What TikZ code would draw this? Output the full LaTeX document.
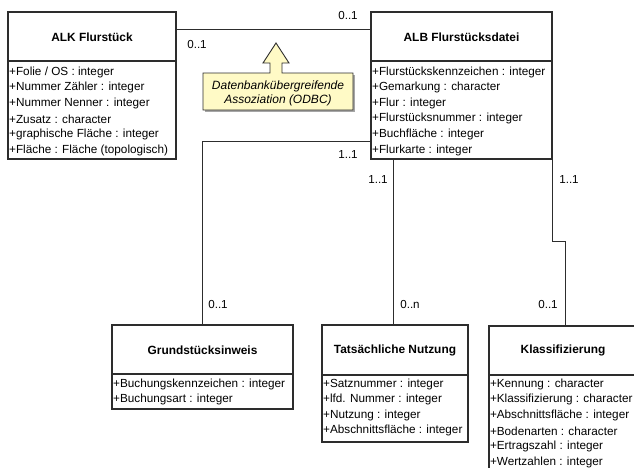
\documentclass[tikz,border=0pt]{standalone}
\usepackage{fontspec}
\setmainfont{Liberation Sans}
\usetikzlibrary{calc}
\definecolor{linegray}{RGB}{45,45,45}
\definecolor{noteyellow}{RGB}{255,250,198}

\begin{document}
\begin{tikzpicture}[x=1pt,y=-1pt,
  classbox/.style={draw=linegray, line width=1.1pt, fill=white, anchor=north west,
    inner sep=0pt, outer sep=0pt},
  classline/.style={draw=linegray, line width=1.1pt},
  title/.style={font=\fontsize{11.9}{13}\selectfont\bfseries, text=black, inner sep=0pt},
  attr/.style={anchor=west, inner sep=0pt, font=\fontsize{11.75}{13}\selectfont},
  mult/.style={font=\fontsize{11.6}{13}\selectfont, inner sep=0pt},
  assoc/.style={draw=linegray, line width=0.9pt},
  notebox/.style={draw=linegray, line width=0.9pt, fill=noteyellow, line join=miter},
  notetext/.style={font=\fontsize{12}{14}\selectfont\itshape, align=center, inner sep=0pt},
]
\useasboundingbox (0,0) rectangle (634,467);
\clip (0,0) rectangle (634,467);

% ---------- classes ----------
\node[classbox, minimum width=168pt, minimum height=147pt] (alk) at (8,12) {};
\node[classbox, minimum width=181pt, minimum height=147pt] (alb) at (371,12) {};
\node[classbox, minimum width=181pt, minimum height=84pt] (grund) at (112,325) {};
\node[classbox, minimum width=146pt, minimum height=117pt] (nutz) at (322,325) {};
\node[classbox, minimum width=148pt, minimum height=170pt] (klass) at (489,326) {};

% header separators
\draw[classline] ($(alk.north west)+(0,49)$) -- ($(alk.north east)+(0,49)$);
\draw[classline] ($(alb.north west)+(0,49)$) -- ($(alb.north east)+(0,49)$);
\draw[classline] ($(grund.north west)+(0,49)$) -- ($(grund.north east)+(0,49)$);
\draw[classline] ($(nutz.north west)+(0,50)$) -- ($(nutz.north east)+(0,50)$);
\draw[classline] ($(klass.north west)+(0,49)$) -- ($(klass.north east)+(0,49)$);

% class names
\node[title] (alkT) at ($(alk.north)+(0,25)$) {ALK Flurstück};
\node[title] (albT) at ($(alb.north)+(0,25)$) {ALB Flurstücksdatei};
\node[title] (grundT) at ($(grund.north)+(0,25)$) {Grundstücksinweis};
\node[title] (nutzT) at ($(nutz.north)+(0,25)$) {Tatsächliche Nutzung};
\node[title] (klassT) at ($(klass.north)+(0,24)$) {Klassifizierung};

% attributes
\foreach \t [count=\i] in {+Folie / OS : integer, +Nummer Zähler : integer,
    +Nummer Nenner : integer, +Zusatz : character, +graphische Fläche : integer,
    +Fläche : Fläche (topologisch)}
  \node[attr] (alkA\i) at ($(alk.north west)+(1,44.5+15.6*\i)$) {\t};
\foreach \t [count=\i] in {+Flurstückskennzeichen : integer, +Gemarkung : character,
    +Flur : integer, +Flurstücksnummer : integer, +Buchfläche : integer,
    +Flurkarte : integer}
  \node[attr] (albA\i) at ($(alb.north west)+(1,44.5+15.6*\i)$) {\t};
\foreach \t [count=\i] in {+Buchungskennzeichen : integer, +Buchungsart : integer}
  \node[attr] (grundA\i) at ($(grund.north west)+(1,43.5+15.5*\i)$) {\t};
\foreach \t [count=\i] in {+Satznummer : integer, +lfd. Nummer : integer,
    +Nutzung : integer, +Abschnittsfläche : integer}
  \node[attr] (nutzA\i) at ($(nutz.north west)+(1,43.5+15.5*\i)$) {\t};
\foreach \t [count=\i] in {+Kennung : character, +Klassifizierung : character,
    +Abschnittsfläche : integer, +Bodenarten : character, +Ertragszahl : integer,
    +Wertzahlen : integer}
  \node[attr] (klassA\i) at ($(klass.north west)+(0.8,42.5+15.6*\i)$) {\t};

% ---------- associations ----------
\coordinate (nutzIn) at ($(nutz.north west)+(71,0)$);
\coordinate (klassIn) at ($(klass.north west)+(76,0)$);

\draw[assoc] ($(alk.north east)+(0,17)$) -- ($(alb.north west)+(0,17)$);
\draw[assoc] ($(alb.north west)+(0,129)$) -| (grund.north);
\draw[assoc] (alb.south -| nutzIn) -- (nutzIn);
\draw[assoc] (alb.south east) -- ++(0,82) -| (klassIn);

% multiplicities
\node[mult] (m1) at (197,45) {0..1};
\node[mult] (m2) at (348,16) {0..1};
\node[mult] (m3) at (348,155) {1..1};
\node[mult] (m4) at (378,180) {1..1};
\node[mult] (m5) at (569,180) {1..1};
\node[mult] (m6) at (218,304) {0..1};
\node[mult] (m7) at (410,304) {0..n};
\node[mult] (m8) at (548,304) {0..1};

% ---------- note with arrow ----------
\fill[black!35] (205,75) -- (355,75) -- (355,112) -- (205,112) -- cycle;
\path[notebox] (203,73) -- (270,73) -- (270,63) -- (263,63) -- (276,43)
  -- (289,63) -- (282,63) -- (282,73) -- (353,73) -- (353,110) -- (203,110) -- cycle;
\node[notetext] (note) at (278,93) {Datenbankübergreifende\\Assoziation (ODBC)};
\end{tikzpicture}
\end{document}
